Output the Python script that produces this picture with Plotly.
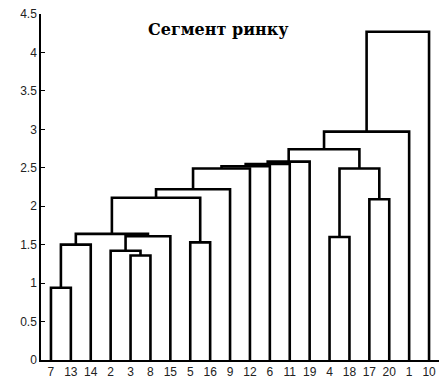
import plotly.graph_objects as go

# Leaf order along the x axis (labels as shown)
leaf_labels = ['7', '13', '14', '2', '3', '8', '15', '5', '16', '9',
               '12', '6', '11', '19', '4', '18', '17', '20', '1', '10']

# Linkage: each merge joins two children (leaf label or 'cN' = merge N) at a height
merge_left = ['7', 'c0', '3', '2', 'c3', 'c1', '5', 'c5', 'c7', 'c8',
              'c9', 'c10', 'c11', '4', '17', 'c13', 'c12', 'c16', 'c17']
merge_right = ['13', '14', '8', 'c2', '15', 'c4', '16', 'c6', '9', '12',
               '6', '11', '19', '18', '20', 'c14', 'c15', '1', '10']
merge_height = [0.94, 1.50, 1.36, 1.42, 1.61, 1.64, 1.53, 2.11, 2.22, 2.49,
                2.52, 2.55, 2.58, 1.60, 2.09, 2.49, 2.74, 2.97, 4.27]

yticks = [0, 0.5, 1, 1.5, 2, 2.5, 3, 3.5, 4, 4.5]
title_text = 'Сегмент ринку'

pos = {lab: (i + 1, 0.0) for i, lab in enumerate(leaf_labels)}
xs, ys = [], []
for k, (l, r, h) in enumerate(zip(merge_left, merge_right, merge_height)):
    xl, hl = pos[l]
    xr, hr = pos[r]
    xs += [xl, xl, xr, xr, None]
    ys += [hl, h, h, hr, None]
    pos['c%d' % k] = ((xl + xr) / 2, h)

fig = go.Figure()
fig.add_trace(go.Scatter(x=xs, y=ys, mode='lines',
                         line=dict(color='black', width=2.6),
                         hoverinfo='skip', showlegend=False))

fig.update_layout(
    width=439, height=381,
    margin=dict(l=41, r=0, t=14, b=21),
    paper_bgcolor='white', plot_bgcolor='white',
    font=dict(family='Liberation Sans, Arial, sans-serif', size=12, color='#222'),
    xaxis=dict(range=[0.5, 20.5], tickvals=list(range(1, 21)), ticktext=leaf_labels,
               showline=True, linecolor='black', linewidth=1.5, ticks='',
               showgrid=False, zeroline=False, tickfont=dict(size=12)),
    yaxis=dict(range=[0, 4.5], tickvals=yticks, ticktext=[('%g' % v) for v in yticks],
               showline=True, linecolor='black', linewidth=1.5, ticks='inside',
               ticklen=4, tickcolor='black', showgrid=False, zeroline=False,
               tickfont=dict(size=12)),
)
fig.add_annotation(text='<b>' + title_text + '</b>', xref='paper', yref='paper',
                   x=0.445, y=0.955, xanchor='center', yanchor='middle', showarrow=False,
                   font=dict(family='DejaVu Serif, serif', size=16, color='black'))

fig.write_html('out.html')
